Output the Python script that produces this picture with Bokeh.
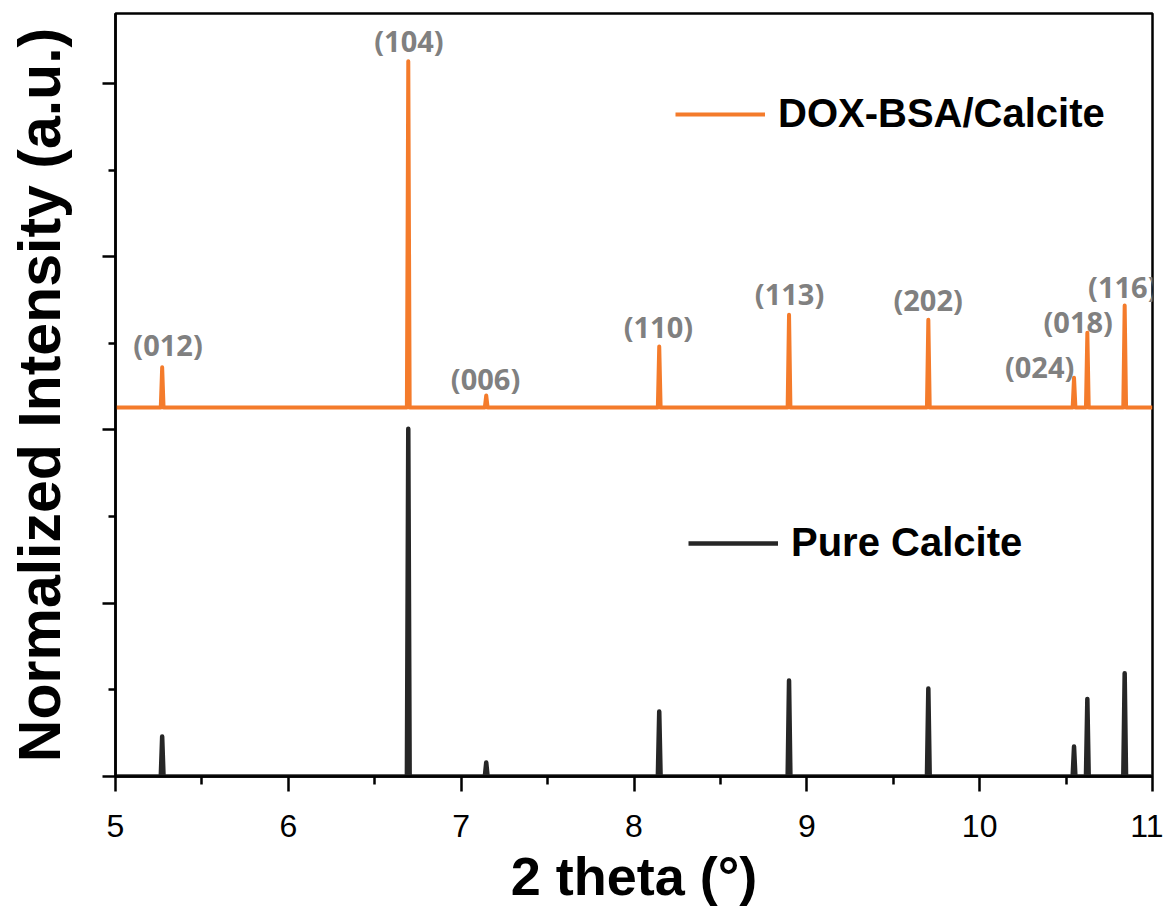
from bokeh.plotting import figure
from bokeh.models import (Range1d, FixedTicker, ColumnDataSource, Legend, LegendItem,
                          CustomJSTickFormatter)
from bokeh.core.properties import value
from bokeh.embed import file_html
from bokeh.resources import INLINE

# ---- data ----
peak_pos = [5.270, 6.694, 7.145, 8.146, 8.897, 9.703, 10.546, 10.623, 10.839]
hkl = ["(012)", "(104)", "(006)", "(110)", "(113)", "(202)", "(024)", "(018)", "(116)"]

dox_base = 2.13
dox_peaks = [2.362, 4.129, 2.199, 2.482, 2.665, 2.636, 2.301, 2.561, 2.719]
pure_base = 0.0
pure_peaks = [0.231, 2.007, 0.081, 0.375, 0.554, 0.508, 0.173, 0.448, 0.596]

label_x = [5.304, 6.698, 7.141, 8.141, 8.900, 9.702, 10.347, 10.570, 10.828]
label_y = [2.494, 4.248, 2.297, 2.597, 2.788, 2.753, 2.367, 2.626, 2.828]

x_major = [5, 6, 7, 8, 9, 10, 11]
x_minor = [5.5, 6.5, 7.5, 8.5, 9.5, 10.5]
y_major = [0, 1, 2, 3, 4]
y_minor = [0.5, 1.5, 2.5, 3.5]

X_START, X_END = 5.0, 11.0
Y_START, Y_END = 0.0, 4.404
HALF_W = 0.008

ORANGE = "#F47B2B"
DARK = "#262626"
GREY = "#808080"


def profile(base, positions, heights):
    xs, ys = [X_START], [base]
    for pos, h in zip(positions, heights):
        xs += [pos - HALF_W, pos, pos + HALF_W]
        ys += [base, h, base]
    xs.append(X_END)
    ys.append(base)
    return xs, ys


p = figure(width=1163, height=912, output_backend="svg", toolbar_location=None,
           x_range=Range1d(X_START, X_END), y_range=Range1d(Y_START, Y_END),
           min_border_left=115, min_border_right=11, min_border_top=13,
           min_border_bottom=136)
p.background_fill_color = "white"
p.border_fill_color = "white"
p.grid.visible = False
p.outline_line_color = "black"
p.outline_line_width = 2.5

dx, dy = profile(dox_base, peak_pos, dox_peaks)
px, py = profile(pure_base, peak_pos, pure_peaks)
r_dox = p.line(dx, dy, line_color=ORANGE, line_width=4, line_join="round")
r_pure = p.line(px, py, line_color=DARK, line_width=4.5, line_join="round")

src = ColumnDataSource(dict(x=label_x, y=label_y, t=hkl))
p.text(x="x", y="y", text="t", source=src, text_align="center",
       text_baseline="middle", text_color=GREY, text_font=value("Open Sans"),
       text_font_style="bold", text_font_size="29px")

# axes
p.xaxis.ticker = FixedTicker(ticks=x_major, minor_ticks=x_minor)
p.yaxis.ticker = FixedTicker(ticks=y_major, minor_ticks=y_minor)
for ax in (p.xaxis, p.yaxis):
    ax.axis_line_width = 2.5
    ax.axis_line_color = "black"
    ax.major_tick_line_width = 2.5
    ax.minor_tick_line_width = 2.5
    ax.major_tick_line_color = "black"
    ax.minor_tick_line_color = "black"
    ax.major_tick_in = 0
    ax.minor_tick_in = 0
    ax.axis_label_text_font = "Liberation Sans"
    ax.axis_label_text_font_style = "bold"
    ax.axis_label_text_color = "black"

p.xaxis.major_tick_out = 15
p.xaxis.minor_tick_out = 8
p.yaxis.major_tick_out = 13
p.yaxis.minor_tick_out = 7

p.xaxis.major_label_text_font = "Liberation Sans"
p.xaxis.major_label_text_font_size = "32px"
p.xaxis.major_label_text_color = "black"
p.xaxis.major_label_standoff = 23
p.xaxis.axis_label = "2 theta (°)"
p.xaxis.axis_label_text_font_size = "54px"
p.xaxis.axis_label_standoff = 6

p.yaxis.formatter = CustomJSTickFormatter(code="return '';")
p.yaxis.major_label_standoff = 0
p.yaxis.axis_label = "Normalized Intensity (a.u.)"
p.yaxis.axis_label_text_font_size = "59px"
p.yaxis.axis_label_standoff = 30


def make_legend(renderer, label, loc):
    return Legend(items=[LegendItem(label=label, renderers=[renderer])],
                  location=loc, orientation="vertical",
                  glyph_width=90, glyph_height=40, label_height=40,
                  label_standoff=13, padding=0, margin=0, spacing=0,
                  border_line_color=None, background_fill_alpha=0,
                  label_text_font="Liberation Sans", label_text_font_style="bold",
                  label_text_font_size="40px", label_text_color="black")


p.add_layout(make_legend(r_dox, "DOX-BSA/Calcite", (560, 640)), "center")
p.add_layout(make_legend(r_pure, "Pure Calcite", (573, 211)), "center")

open("out.html", "w").write(file_html(p, INLINE))
